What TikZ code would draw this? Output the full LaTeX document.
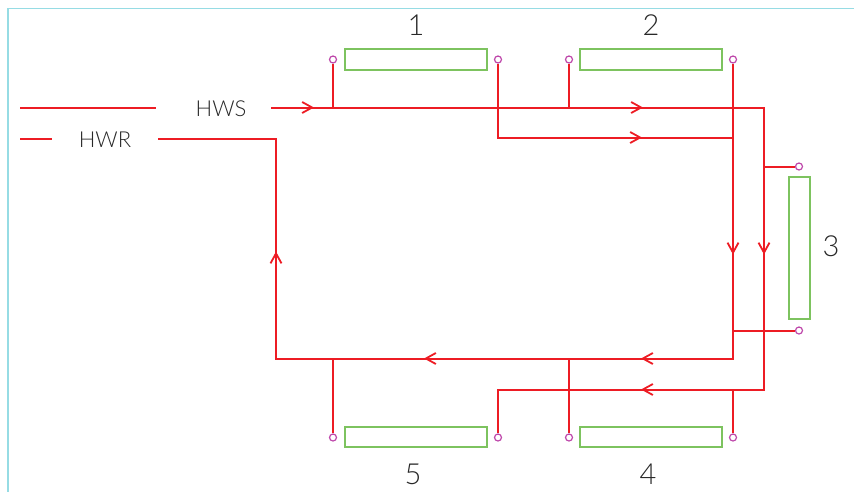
\documentclass[tikz,border=0pt]{standalone}
\usepackage{fontspec}
\setmainfont{Lato Light}
\usetikzlibrary{arrows.meta}
\definecolor{pipered}{RGB}{237,28,36}
\definecolor{framecyan}{RGB}{150,220,228}
\definecolor{boxgreen}{RGB}{125,195,95}
\definecolor{termpink}{RGB}{190,70,170}
\definecolor{textgrey}{RGB}{40,40,40}
\tikzset{
	pipe/.style={draw=pipered,line width=2pt},
	flowtip/.style={draw=pipered,line width=2pt,-{Straight Barb[length=10pt,width=11pt,line width=1.8pt]}},
	term/.style={circle,draw=termpink,fill=white,line width=1.2pt,inner sep=0pt,minimum size=7pt},
	unitbox/.style={draw=boxgreen,line width=1.4pt},
	tag/.style={text=textgrey,font=\fontsize{22}{22}\selectfont},
	numtag/.style={text=textgrey,font=\fontsize{29}{29}\selectfont}
}
\begin{document}
\begin{tikzpicture}[x=1pt,y=-1pt]
\useasboundingbox (0,-0.5) rectangle (854,490.5);

%Rahmen
\draw[color=framecyan,line width=1.4pt] (8,491) -- (8,8) -- (854,8);

%Geraete
\foreach \name/\xa/\ya/\xb/\yb in
{
boxa/345/48.5/487/69.5,
boxb/580/48.5/722/69.5,
boxc/789/176.5/810/318.5,
boxd/580/426.5/722/446.5,
boxe/345/426.5/487/446.5
}
{
	\draw[unitbox] (\xa,\ya) rectangle (\xb,\yb);
	\coordinate (\name) at (\xa,\ya);
}

%Anschluesse
\foreach \name/\x/\y in
{
ta/333/59,
tb/498/59,
tc/569/59,
td/733/59,
te/799/166,
tf/799/330,
tg/733/437,
th/569/437,
ti/498/437,
tj/333/437
}
{
	\node[term] (\name) at (\x,\y) {};
}

%Beschriftung
\node[tag] (hws) at (221,108) {HWS};
\node[tag] (hwr) at (105,139) {HWR};
\node[numtag] (one) at (416,25) {1};
\node[numtag] (two) at (651,25) {2};
\node[numtag] (three) at (831,246) {3};
\node[numtag] (four) at (648,474) {4};
\node[numtag] (five) at (413,474) {5};

%Knoten der Leitungen
\foreach \name/\x/\y in
{
sa/20/107,
sb/156/107,
sc/271/107,
sd/764/107,
se/764/389,
sf/498/389,
ra/20/138,
rb/52/138,
rc/158/138,
rd/276/138,
re/276/358,
rf/733/358,
ja/333/107,
jb/569/107,
jc/498/137,
jd/733/137,
je/764/166,
jf/733/330,
jg/333/358,
jh/569/358,
ji/733/389,
ma/304/107,
mb/314/107,
mc/633/107,
md/643/107,
me/632/137,
mf/642/137,
mg/733/244,
mh/733/254,
mi/764/244,
mj/764/254,
mk/276/261,
ml/276/251,
mm/651/358,
mn/641/358,
mo/434/358,
mp/424/358,
mq/651/389,
mr/641/389
}
{
	\coordinate (\name) at (\x,\y);
}

%Vorlauf
\draw[pipe] (sa) -- (sb);
\draw[pipe] (sc) -- (sd) -- (se) -- (sf) -- (ti);
\draw[pipe] (ta) -- (ja);
\draw[pipe] (tc) -- (jb);
\draw[pipe] (je) -- (te);
\draw[pipe] (ji) -- (tg);

%Ruecklauf
\draw[pipe] (ra) -- (rb);
\draw[pipe] (rc) -- (rd) -- (re) -- (rf) -- (td);
\draw[pipe] (tb) -- (jc) -- (jd);
\draw[pipe] (jf) -- (tf);
\draw[pipe] (jg) -- (tj);
\draw[pipe] (jh) -- (th);

%Pfeile
\foreach \a/\b in {ma/mb,mc/md,me/mf,mg/mh,mi/mj,mk/ml,mm/mn,mo/mp,mq/mr}
{
	\draw[flowtip] (\a) -- (\b);
}
\end{tikzpicture}
\end{document}
